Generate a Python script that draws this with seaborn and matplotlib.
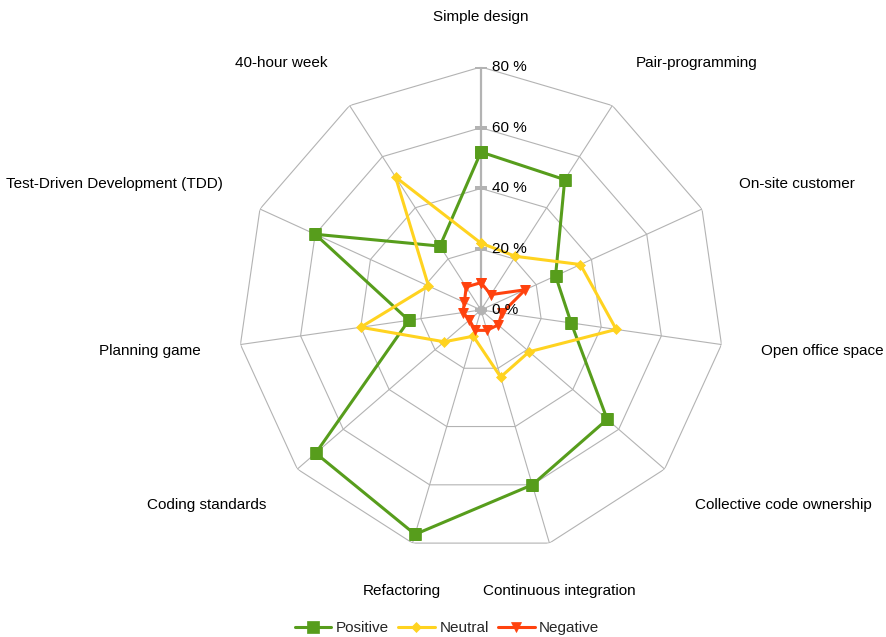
import numpy as np
import pandas as pd
import seaborn as sns
import matplotlib.pyplot as plt

# survey answers per XP practice, in % of respondents
categories = ["Simple design", "Pair-programming", "On-site customer", "Open office space",
              "Collective code ownership", "Continuous integration", "Refactoring",
              "Coding standards", "Planning game", "Test-Driven Development (TDD)", "40-hour week"]
positive = [52, 51, 27, 30, 55, 60, 77, 72, 24, 60, 25]
neutral = [22, 21, 36, 45, 21, 23, 9, 16, 40, 19, 52]
negative = [9, 6, 16, 7, 7.5, 7, 7, 5, 6, 6, 9]
series_names = ["Positive", "Neutral", "Negative"]
r_ticks = [0, 20, 40, 60, 80]

colors = ["#579d1c", "#ffd320", "#ff420e"]
markers = ["s", "D", "v"]
marker_sizes = [8.5, 5.5, 7.5]
grid_c = "#b3b3b3"

# label placement: (dx, dy) in pixels from the outer vertex, and alignment
label_offsets = [(0, 50), (23, 43), (37, 25), (40, -6), (30, -36), (10, -48),
                 (-11, -48), (-31, -36), (-40, -6), (-37, 25), (-22, 43)]
label_ha = ["center", "left", "left", "left", "left", "center",
            "center", "right", "right", "right", "right"]

n = len(categories)
theta = np.linspace(0, 2 * np.pi, n, endpoint=False)
theta_closed = np.append(theta, 2 * np.pi)

rows = []
for name, vals in zip(series_names, [positive, neutral, negative]):
    for t, v in zip(theta_closed, vals + vals[:1]):
        rows.append({"series": name, "theta": t, "value": v})
df = pd.DataFrame(rows)

sns.set_style("white")
plt.rcParams["font.family"] = ["Liberation Sans", "DejaVu Sans"]

fig = plt.figure(figsize=(8.86, 6.37), dpi=100)
ax = fig.add_axes([0.2686, 0.1319, 0.5485, 0.763], projection="polar")
ax.set_theta_zero_location("N")
ax.set_theta_direction(-1)
ax.grid(False)
ax.spines["polar"].set_visible(False)
ax.patch.set_alpha(0)

# polygon grid
for t in theta[1:]:
    ax.plot([t, t], [0, r_ticks[-1]], color=grid_c, lw=0.8, zorder=1)
for v in r_ticks[1:]:
    ax.plot(theta_closed, [v] * (n + 1), color=grid_c, lw=0.8, zorder=1)
ax.plot([0, 0], [0, r_ticks[-1]], color=grid_c, lw=1.6, zorder=1)
ax.plot([0] * len(r_ticks), r_ticks, ls="none", marker="_", ms=9, mew=1.5, color=grid_c, zorder=1)
ax.plot([0], [0], ls="none", marker="o", ms=6, color=grid_c, zorder=1)

for name, color, mk, ms in zip(series_names, colors, markers, marker_sizes):
    sub = df[df["series"] == name]
    sns.lineplot(data=sub, x="theta", y="value", sort=False, estimator=None, color=color,
                 marker=mk, markersize=ms, markeredgecolor=color, markeredgewidth=0.5,
                 linewidth=2.2, label=name, ax=ax, zorder=3)

if ax.get_legend() is not None:
    ax.get_legend().remove()
ax.set_xlabel("")
ax.set_ylabel("")
ax.set_xticks([])
ax.set_yticks([])
ax.set_ylim(0, r_ticks[-1])

for v in r_ticks:
    ax.annotate(f"{v} %", xy=(0, v), xytext=(8, 0), textcoords="offset points",
                ha="left", va="center", fontsize=11, color="black", annotation_clip=False)

for t, lab, off, ha in zip(theta, categories, label_offsets, label_ha):
    ax.annotate(lab, xy=(t, r_ticks[-1]), xytext=off, textcoords="offset pixels",
                ha=ha, va="center", fontsize=11, color="black", annotation_clip=False)

handles, labels = ax.get_legend_handles_labels()
fig.legend(handles, labels, loc="center", bbox_to_anchor=(447 / 886, 1 - 628 / 637), ncol=3,
           frameon=False, fontsize=11, handlelength=2.4, columnspacing=0.6, handletextpad=0.3)

fig.savefig("out.png", dpi=100)
